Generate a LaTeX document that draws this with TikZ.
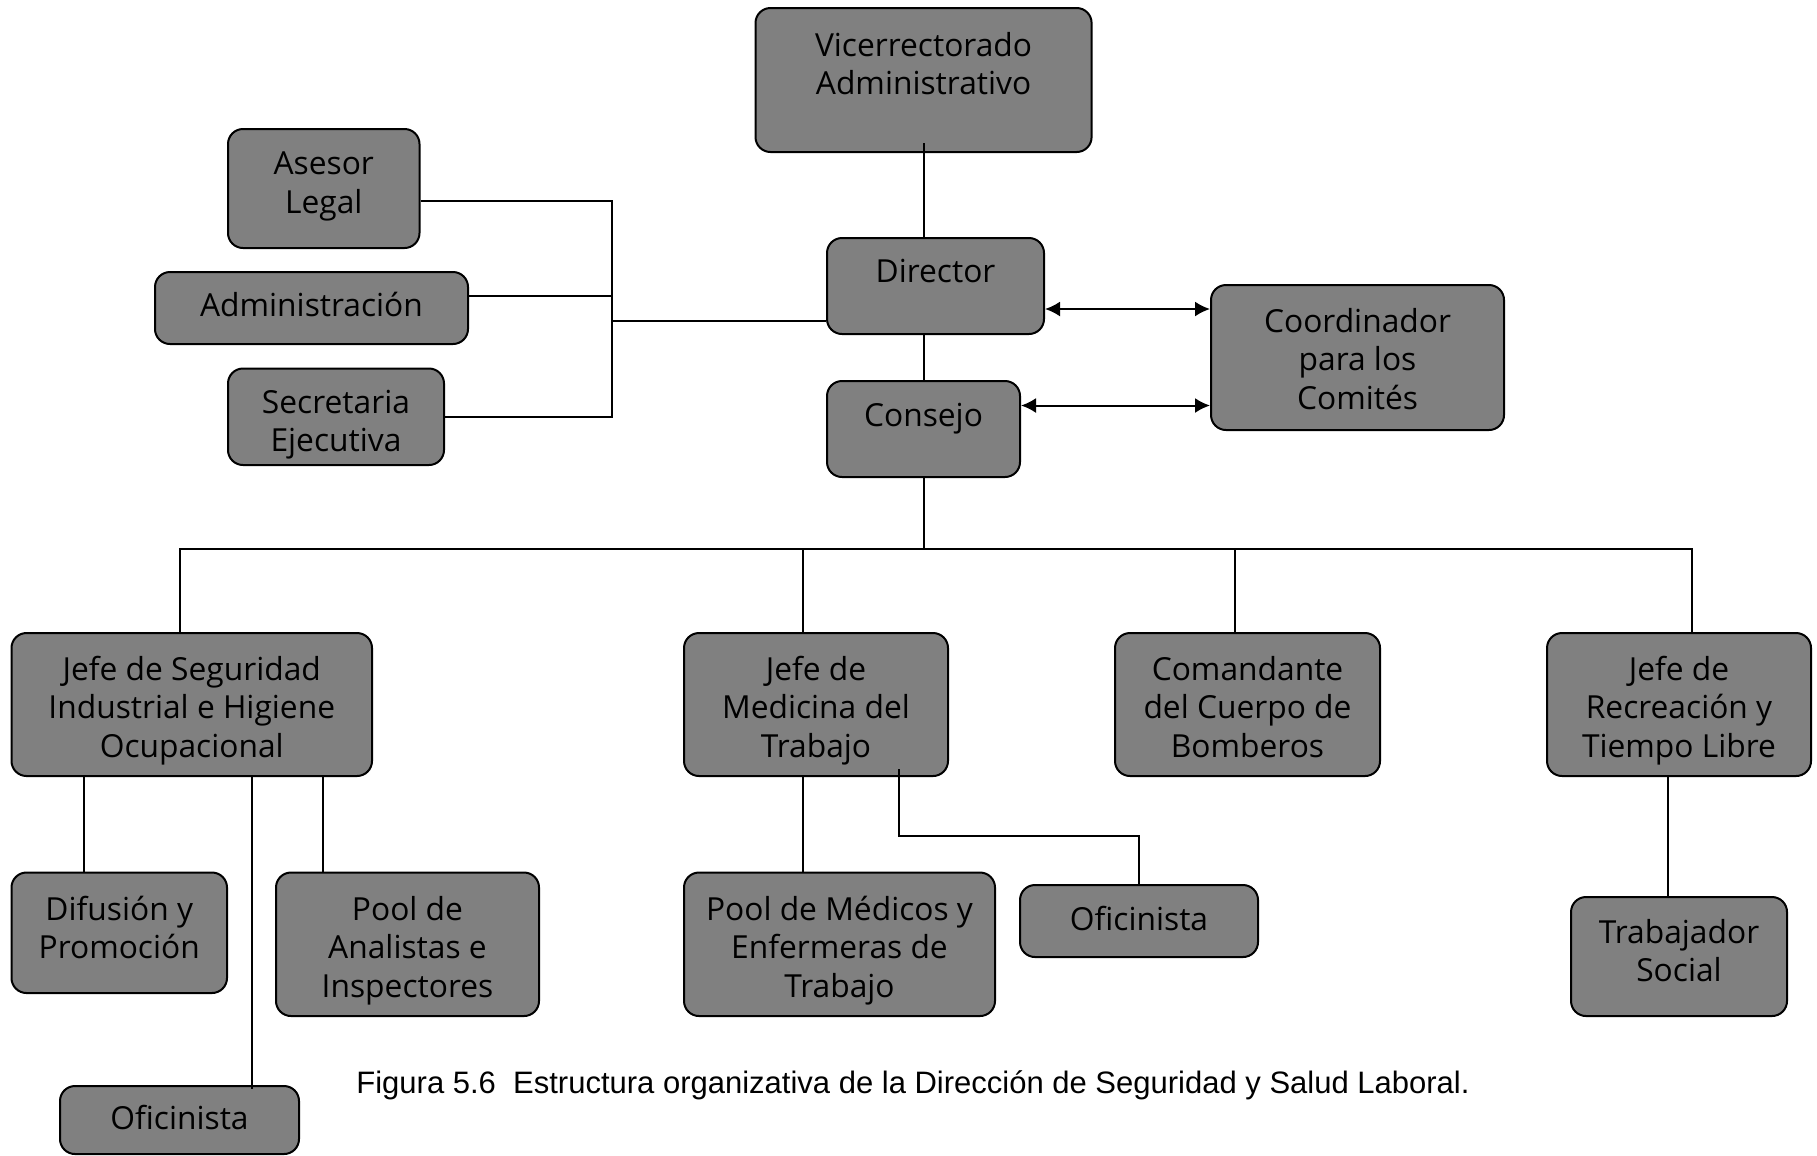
\documentclass[tikz,border=0pt]{standalone}
\usepackage{fontspec}
\setmainfont{Open Sans}
\newfontfamily\capfont{Liberation Sans}
\usetikzlibrary{calc,arrows.meta}
\definecolor{boxgray}{HTML}{808080}
\begin{document}
\begin{tikzpicture}[x=0.4pt,y=-0.4pt,
  box/.style={draw=black,line width=0.8pt,fill=boxgray,rounded corners=6pt,inner sep=0pt},
  boxtext/.style={align=center,inner sep=0pt,font=\fontsize{12.7}{15.4}\selectfont},
  conn/.style={line width=0.8pt},
  dbl/.style={line width=0.8pt,{Latex[length=6pt,width=6pt]}-{Latex[length=6pt,width=6pt]}}]
\useasboundingbox (0,0) rectangle (1817,1155);
% \orgbox{name}{x1}{y1}{x2}{y2}{text shift}{text}
\newcommand\orgbox[7]{%
  \node[box,minimum width={(#4-#2)*0.4pt},minimum height={(#5-#3)*0.4pt},
    label={[boxtext,yshift=#6]center:{#7}}]
    (#1) at ({(#2+#4)/2},{(#3+#5)/2}) {};}
\orgbox{vr}{755.5}{8}{1091.6}{152}{6.5pt}{Vicerrectorado\\Administrativo}
\orgbox{dir}{827}{238}{1044}{334}{6pt}{Director}
\orgbox{con}{827}{381}{1020}{477}{4.2pt}{Consejo}
\orgbox{coord}{1211}{285}{1504}{430}{-0.5pt}{Coordinador\\para los\\Comités}
\orgbox{ase}{228}{129}{419.5}{248}{0.9pt}{Asesor\\Legal}
\orgbox{adm}{155}{272}{468}{344}{1.3pt}{Administración}
\orgbox{sec}{228}{368.5}{444}{465}{-3.2pt}{Secretaria\\Ejecutiva}
\orgbox{jsi}{11.5}{633}{372}{776}{-2.3pt}{Jefe de Seguridad\\Industrial e Higiene\\Ocupacional}
\orgbox{jmt}{684}{633}{948}{776}{-2.3pt}{Jefe de\\Medicina del\\Trabajo}
\orgbox{com}{1115}{633}{1380}{776}{-0.9pt}{Comandante\\del Cuerpo de\\Bomberos}
\orgbox{jrt}{1547}{633}{1811}{776}{-2.3pt}{Jefe de\\Recreación y\\Tiempo Libre}
\orgbox{dif}{11.5}{872.5}{227}{993}{2.1pt}{Difusión y\\Promoción}
\orgbox{pan}{276}{872.5}{539}{1016}{-2.4pt}{Pool de\\Analistas e\\Inspectores}
\orgbox{ofl}{60}{1086}{299}{1154}{0.9pt}{Oficinista}
\orgbox{pmt}{684}{872.5}{995}{1016}{-2.4pt}{Pool de Médicos y\\Enfermeras de\\Trabajo}
\orgbox{ofm}{1020}{885}{1258}{957}{0.9pt}{Oficinista}
\orgbox{tsc}{1571}{897}{1787}{1016}{2.3pt}{Trabajador\\Social}

% upper chain
\draw[conn] ($(vr.south)+(0,-10)$) -- (vr.south |- dir.north);
\draw[conn] (con.north |- dir.south) -- (con.north);
% staff bracket on the left
\coordinate (bkt) at (612,321);
\draw[conn] ($(ase.east)+(0,12)$) -| (bkt |- sec.east) -- (sec.east);
\draw[conn] ($(adm.east)+(0,-12.5)$) coordinate (a1) -- (bkt |- a1);
\draw[conn] (bkt) -- (dir.west |- bkt);
% links to the coordinator
\draw[dbl] ($(dir.east)+(0,23)$) coordinate (p1) -- (coord.west |- p1);
\draw[dbl] ($(con.east)+(0,-23.5)$) coordinate (p2) -- (coord.west |- p2);
% main bus
\coordinate (bus) at (0,549);
\draw[conn] (con.south) -- (con.south |- bus);
\draw[conn] ($(jsi.north)+(-12,0)$) coordinate (b1) -- (b1 |- bus)
  -| ($(jrt.north)+(13,0)$);
\draw[conn] ($(jmt.north)+(-13,0)$) coordinate (b2) -- (b2 |- bus);
\draw[conn] ($(com.north)+(-12.5,0)$) coordinate (b3) -- (b3 |- bus);
% safety and hygiene branch
\draw[conn] ($(jsi.south)+(-108,0)$) coordinate (s1) -- (s1 |- dif.north);
\draw[conn] ($(jsi.south)+(131,0)$) coordinate (s2) -- (s2 |- pan.north);
\draw[conn] ($(jsi.south)+(60,0)$) coordinate (s3) -- ($(s3 |- ofl.north)+(0,4)$);
% occupational medicine branch
\draw[conn] ($(jmt.south)+(-13,0)$) coordinate (m1) -- (m1 |- pmt.north);
\draw[conn] ($(jmt.south)+(83,-8)$) |- ($(ofm.north)+(0,-48)$) -- (ofm.north);
% recreation branch
\draw[conn] ($(jrt.south)+(-11.5,0)$) coordinate (r1) -- (r1 |- tsc.north);
% caption
\node[font=\capfont\fontsize{12.4}{14}\selectfont] (cap) at (913,1085)
  {Figura 5.6\ \ Estructura organizativa de la Dirección de Seguridad y Salud Laboral.};
\end{tikzpicture}
\end{document}
